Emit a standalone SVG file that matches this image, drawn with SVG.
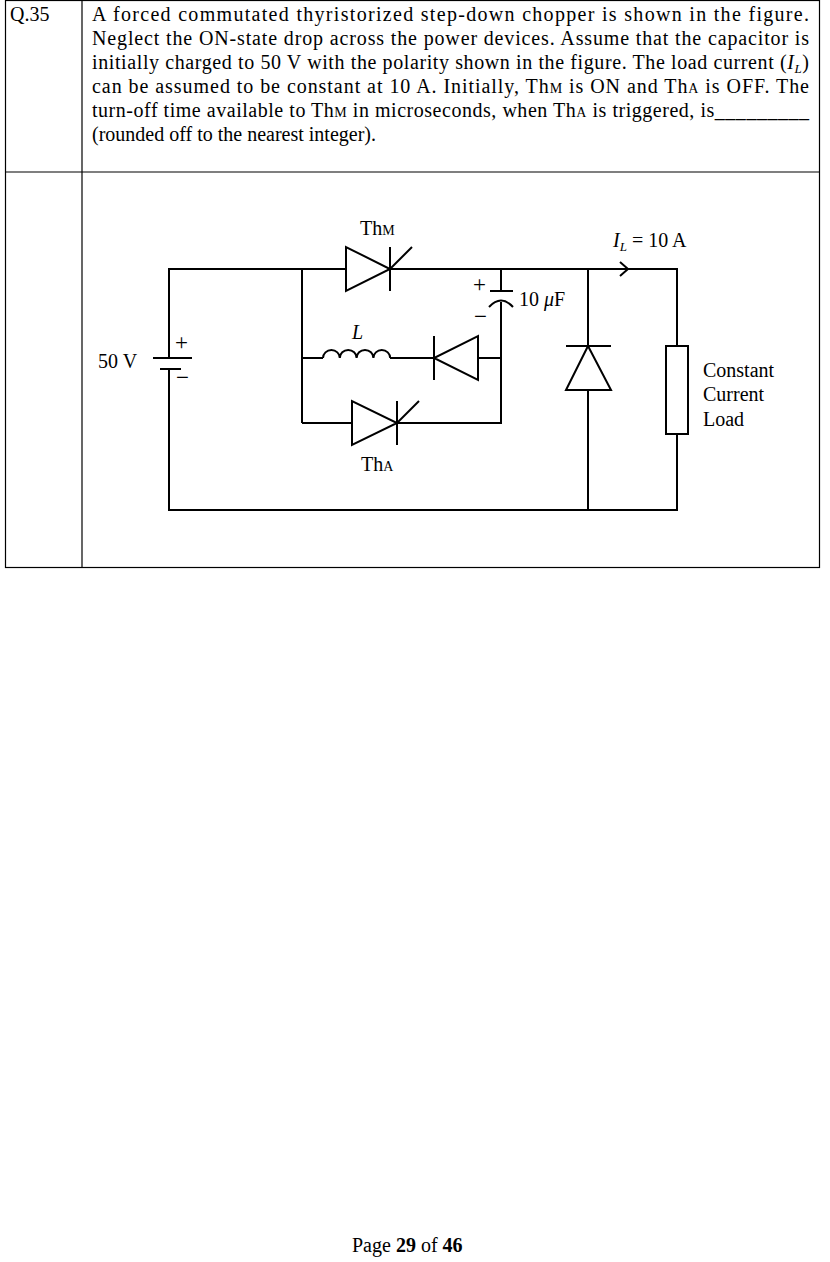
<svg xmlns="http://www.w3.org/2000/svg" width="830" height="1262" viewBox="0 0 830 1262">
<style>
.t{font-family:"Liberation Serif",serif;font-size:20px;fill:#000}
.s{font-family:"Liberation Serif",serif;font-size:23px;fill:#000}
.w{stroke:#000;stroke-width:2;fill:none}
.b{stroke:#000;stroke-width:1.2;fill:none}
</style>
<rect width="830" height="1262" fill="#fff"/>
<g id="table" class="b">
<rect x="5.5" y="0.5" width="814" height="567"/>
<line x1="82" y1="0" x2="82" y2="567"/>
<line x1="5" y1="172" x2="820" y2="172"/>
</g>
<g id="question">
<text class="t" x="10" y="21">Q.35</text>
<text class="t" x="92" y="21" textLength="717" lengthAdjust="spacing">A forced commutated thyristorized step-down chopper is shown in the figure.</text>
<text class="t" x="92" y="45" textLength="717" lengthAdjust="spacing">Neglect the ON-state drop across the power devices. Assume that the capacitor is</text>
<text class="t" x="92" y="69" textLength="717" lengthAdjust="spacing">initially charged to 50 V with the polarity shown in the figure. The load current (<tspan font-style="italic">I<tspan font-size="13" dy="4">L</tspan></tspan><tspan dy="-4">)</tspan></text>
<text class="t" x="92" y="93" textLength="717" lengthAdjust="spacing">can be assumed to be constant at 10 A. Initially, Th<tspan font-size="14">M</tspan> is ON and Th<tspan font-size="14">A</tspan> is OFF. The</text>
<text class="t" x="92" y="117" textLength="717" lengthAdjust="spacing">turn-off time available to Th<tspan font-size="14">M</tspan> in microseconds, when Th<tspan font-size="14">A</tspan> is triggered, is_________</text>
<text class="t" x="92" y="141">(rounded off to the nearest integer).</text>
</g>
<g id="connectors" class="w">
<polyline points="302,269 169,269 169,358"/>
<polyline points="169,369 169,510 677,510 677,434"/>
<line x1="302" y1="269" x2="346" y2="269"/>
<polyline points="390,269 677,269 677,346"/>
<line x1="501" y1="269" x2="501" y2="291"/>
<polyline points="501,302 501,423 397,423"/>
<line x1="352" y1="423" x2="302" y2="423"/>
<line x1="302" y1="269" x2="302" y2="423"/>
<line x1="302" y1="358" x2="323" y2="358"/>
<line x1="390" y1="358" x2="434" y2="358"/>
<line x1="478" y1="358" x2="501" y2="358"/>
<line x1="588" y1="269" x2="588" y2="346"/>
<line x1="588" y1="390" x2="588" y2="510"/>
<polyline points="620,262 628,269 620,276"/>
</g>
<g id="battery" class="w">
<line x1="153" y1="358" x2="192" y2="358"/>
<line x1="160" y1="369" x2="181" y2="369"/>
</g>
<g id="thM" class="w">
<polygon points="346,247 346,291 390,269"/>
<line x1="390" y1="247" x2="390" y2="291"/>
<line x1="390" y1="269" x2="412" y2="247"/>
</g>
<g id="thA" class="w">
<polygon points="352,401 352,445 397,423"/>
<line x1="397" y1="401" x2="397" y2="445"/>
<line x1="397" y1="423" x2="419" y2="401"/>
</g>
<g id="inductor" class="w">
<path d="M323,358 a8.4,8 0 0 1 16.8,0 a8.4,8 0 0 1 16.8,0 a8.4,8 0 0 1 16.8,0 a8.4,8 0 0 1 16.8,0"/>
</g>
<g id="diode1" class="w">
<polygon points="478,336 478,380 434,358"/>
<line x1="434" y1="336" x2="434" y2="380"/>
</g>
<g id="capacitor" class="w">
<line x1="490" y1="291" x2="513" y2="291"/>
<path d="M489,307 Q501,294 513,307"/>
</g>
<g id="diode2" class="w">
<polygon points="566,390 611,390 588,346"/>
<line x1="566" y1="346" x2="611" y2="346"/>
</g>
<g id="load" class="w">
<rect x="666" y="346" width="22" height="88" fill="#fff"/>
</g>
<g id="labels">
<text class="t" x="360" y="235">Th<tspan font-size="14">M</tspan></text>
<text class="t" x="361" y="471">Th<tspan font-size="14">A</tspan></text>
<text class="t" x="98" y="368">50 V</text>
<text class="s" x="175" y="350">+</text>
<text class="s" x="176" y="385">−</text>
<text class="s" x="473" y="292">+</text>
<text class="s" x="474" y="324">−</text>
<text class="t" x="519" y="306">10 <tspan font-style="italic">μ</tspan>F</text>
<text class="t" x="352" y="339" font-style="italic">L</text>
<text class="t" x="613" y="247"><tspan font-style="italic">I<tspan font-size="13" dy="4">L</tspan></tspan><tspan dy="-4">  =  10 A</tspan></text>
<text class="t" x="703" y="377">Constant</text>
<text class="t" x="703" y="401">Current</text>
<text class="t" x="703" y="426">Load</text>
<text class="t" x="352" y="1252">Page <tspan font-weight="bold">29</tspan> of <tspan font-weight="bold">46</tspan></text>
</g>
</svg>
